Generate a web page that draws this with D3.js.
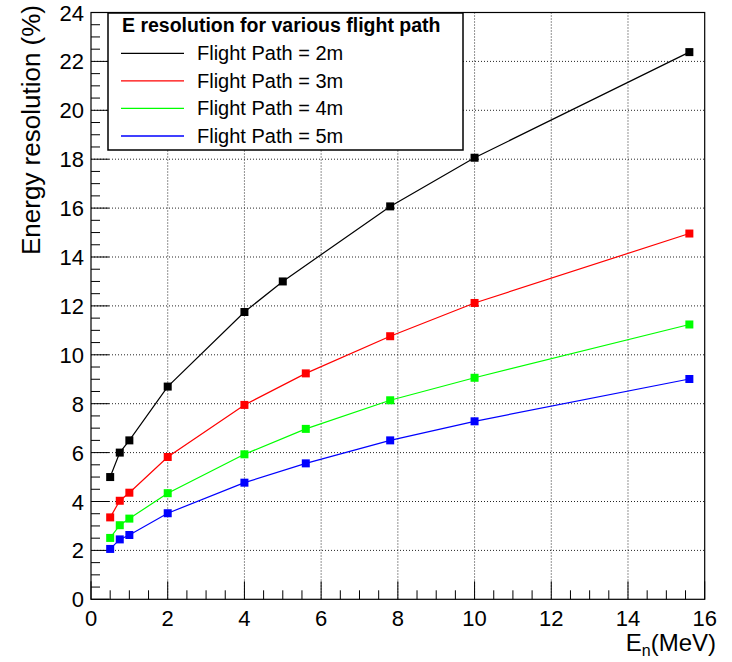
<!DOCTYPE html>
<html>
<head>
<meta charset="utf-8">
<script src="https://cdn.jsdelivr.net/npm/d3@7"></script>
<style>
  html, body { margin: 0; padding: 0; background: #fff; }
  svg { display: block; font-family: "Liberation Sans", Arial, Helvetica, sans-serif; }
</style>
</head>
<body>
<svg id="chart" width="732" height="662"></svg>
<script>
// Neutron energies (MeV) at which the resolution was evaluated
const energies2m = [0.5, 0.75, 1, 2, 4, 5, 7.8, 10, 15.6];
const energies   = [0.5, 0.75, 1, 2, 4, 5.6, 7.8, 10, 15.6];

// Energy resolution (%) for each flight path length
const res2m = [5.0, 6.0, 6.5, 8.7, 11.75, 13.0, 16.07, 18.06, 22.38];
const res3m = [3.35, 4.03, 4.36, 5.82, 7.95, 9.24, 10.76, 12.12, 14.96];
const res4m = [2.51, 3.03, 3.30, 4.34, 5.93, 6.97, 8.14, 9.06, 11.24];
const res5m = [2.06, 2.45, 2.63, 3.52, 4.77, 5.56, 6.50, 7.28, 9.01];

const seriesNames  = ["Flight Path = 2m", "Flight Path = 3m", "Flight Path = 4m", "Flight Path = 5m"];
const seriesColors = ["#000000", "#ff0000", "#00ff00", "#0000ff"];
const legendTitle  = "E resolution for various flight path";

const xTicks = [0, 2, 4, 6, 8, 10, 12, 14, 16];
const yTicks = [0, 2, 4, 6, 8, 10, 12, 14, 16, 18, 20, 22, 24];

const series = [
  { xs: energies2m, ys: res2m },
  { xs: energies,   ys: res3m },
  { xs: energies,   ys: res4m },
  { xs: energies,   ys: res5m }
].map((s, i) => ({
  name: seriesNames[i],
  color: seriesColors[i],
  points: s.xs.map((x, j) => ({ x, y: s.ys[j] }))
}));

const svg = d3.select("#chart");

const frame = { left: 91, right: 704.7, top: 12.5, bottom: 599.3 };
const x = d3.scaleLinear().domain([0, 16]).range([frame.left, frame.right]);
const y = d3.scaleLinear().domain([0, 24]).range([frame.bottom, frame.top]);

const majorLen = 18, minorLen = 9;

// Dotted grid at the major divisions
const grid = svg.append("g").attr("stroke", "#000").attr("stroke-width", 1)
  .attr("stroke-dasharray", "1,2").attr("opacity", 0.85);
grid.selectAll(".gx").data(xTicks.slice(1, -1)).join("line")
  .attr("x1", d => x(d)).attr("x2", d => x(d))
  .attr("y1", frame.top).attr("y2", frame.bottom);
grid.selectAll(".gy").data(yTicks.slice(1, -1)).join("line")
  .attr("x1", frame.left).attr("x2", frame.right)
  .attr("y1", d => y(d)).attr("y2", d => y(d));

// Inward-pointing tick marks on the bottom and left axes
const xMinor = d3.range(0, 16.001, 0.5);
const yMinor = d3.range(0, 24.001, 0.5);
const ticks = svg.append("g").attr("stroke", "#000").attr("stroke-width", 1);
ticks.selectAll(".tx").data(xMinor).join("line")
  .attr("x1", d => x(d)).attr("x2", d => x(d))
  .attr("y1", frame.bottom)
  .attr("y2", d => frame.bottom - (Math.abs(d % 2) < 1e-9 ? majorLen : minorLen));
ticks.selectAll(".ty").data(yMinor).join("line")
  .attr("y1", d => y(d)).attr("y2", d => y(d))
  .attr("x1", frame.left)
  .attr("x2", d => frame.left + (Math.abs(d % 2) < 1e-9 ? majorLen : minorLen));

// Plot frame
svg.append("rect")
  .attr("x", frame.left).attr("y", frame.top)
  .attr("width", frame.right - frame.left).attr("height", frame.bottom - frame.top)
  .attr("fill", "none").attr("stroke", "#000").attr("stroke-width", 1.2);

// Tick labels
svg.append("g").selectAll("text").data(xTicks).join("text")
  .attr("x", d => x(d)).attr("y", 626)
  .attr("text-anchor", "middle").attr("font-size", 22).attr("fill", "#000")
  .text(d => d);
svg.append("g").selectAll("text").data(yTicks).join("text")
  .attr("x", 84).attr("y", d => y(d) + 8)
  .attr("text-anchor", "end").attr("font-size", 22).attr("fill", "#000")
  .text(d => d);

// Axis titles
const xTitle = svg.append("text")
  .attr("x", 716).attr("y", 651)
  .attr("text-anchor", "end").attr("font-size", 24).attr("fill", "#000");
xTitle.append("tspan").text("E");
xTitle.append("tspan").attr("font-size", 16).attr("dy", 5).text("n");
xTitle.append("tspan").attr("dy", -5).text("(MeV)");

svg.append("text")
  .attr("transform", "translate(40,5) rotate(-90)")
  .attr("text-anchor", "end").attr("font-size", 26).attr("fill", "#000")
  .text("Energy resolution (%)");

// Data lines and square markers
const line = d3.line().x(d => x(d.x)).y(d => y(d.y));
const marker = 8;
series.forEach(s => {
  const g = svg.append("g");
  g.append("path").datum(s.points)
    .attr("d", line).attr("fill", "none")
    .attr("stroke", s.color).attr("stroke-width", 1.2);
  g.selectAll("rect").data(s.points).join("rect")
    .attr("x", d => x(d.x) - marker / 2).attr("y", d => y(d.y) - marker / 2)
    .attr("width", marker).attr("height", marker)
    .attr("fill", s.color);
});

// Legend
const lg = { left: 108, top: 13, right: 463, bottom: 150 };
const legend = svg.append("g");
legend.append("rect")
  .attr("x", lg.left).attr("y", lg.top)
  .attr("width", lg.right - lg.left).attr("height", lg.bottom - lg.top)
  .attr("fill", "#fff").attr("stroke", "#000").attr("stroke-width", 1.5);
legend.append("text")
  .attr("x", 122).attr("y", 32)
  .attr("font-size", 19.5).attr("font-weight", "bold").attr("fill", "#000")
  .text(legendTitle);
const rowY = d3.scalePoint().domain(seriesNames).range([53.3, 136]);
const rows = legend.selectAll(".row").data(series).join("g");
rows.append("line")
  .attr("x1", 121).attr("x2", 184)
  .attr("y1", d => rowY(d.name)).attr("y2", d => rowY(d.name))
  .attr("stroke", d => d.color).attr("stroke-width", 1.3);
rows.append("text")
  .attr("x", 197).attr("y", d => rowY(d.name) + 7)
  .attr("font-size", 20).attr("fill", "#000")
  .text(d => d.name);
</script>
</body>
</html>
